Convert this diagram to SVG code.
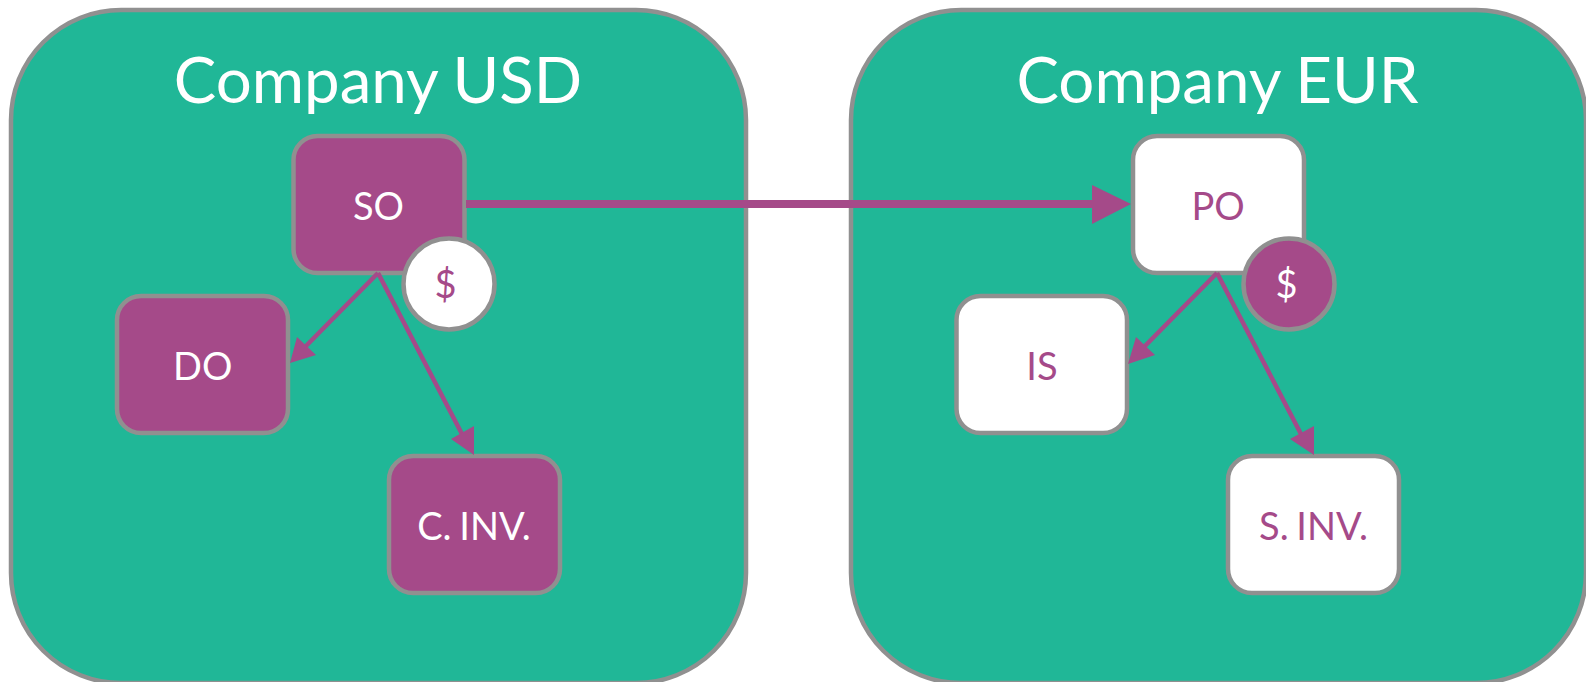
<svg xmlns="http://www.w3.org/2000/svg" width="1586" height="682" viewBox="0 0 1586 682">
<style>
text{font-family:Lato,"Noto Sans",sans-serif;text-anchor:middle}
.co{fill:#20b797;stroke:#909090;stroke-width:4.500}
.title{font-size:63.600px;fill:#fff;word-spacing:-1px}
.p{fill:#a54a89;stroke:#909090;stroke-width:4.500}
.w{fill:#fff;stroke:#909090;stroke-width:4.500}
.lw{font-size:38px;fill:#fff;word-spacing:-2px}
.lp{font-size:38px;fill:#a54a89;word-spacing:-2px}
.ln{stroke:#a54a89;fill:none}
.hd{fill:#a54a89}
</style>
<rect width="1586" height="682" fill="#fff"/>
<g id="company-usd"><rect class="co" x="11" y="10" width="735" height="673" rx="110"/><text class="title" x="378" y="102.500">Company USD</text></g>
<g id="company-eur"><rect class="co" x="851" y="10" width="735" height="673" rx="110"/><text class="title" x="1217.500" y="102.500">Company EUR</text></g>
<g id="so"><rect class="p" x="293.500" y="136" width="171" height="137" rx="24"/><text class="lw" x="378.500" y="219.500">SO</text></g>
<g id="do"><rect class="p" x="117" y="296" width="171" height="137" rx="24"/><text class="lw" x="202.700" y="379.500">DO</text></g>
<g id="cinv"><rect class="p" x="389" y="456" width="171" height="137" rx="24"/><text class="lw" x="474" y="539.500">C. INV.</text></g>
<g id="po"><rect class="w" x="1133" y="136" width="171" height="137" rx="24"/><text class="lp" x="1218" y="219.500">PO</text></g>
<g id="is"><rect class="w" x="956.500" y="296" width="170.500" height="137" rx="24"/><text class="lp" x="1042" y="379.500">IS</text></g>
<g id="sinv"><rect class="w" x="1228" y="456" width="171" height="137" rx="24"/><text class="lp" x="1313.500" y="539.500">S. INV.</text></g>
<g id="connectors">
<path class="ln" stroke-width="8" d="M466 204H1092"/><polygon class="hd" points="1092,185 1131,204 1092,224"/>
<path class="ln" stroke-width="4.500" d="M378 273L305 347M378 273L463 436"/>
<polygon class="hd" points="297,337 316,355 290,363"/><polygon class="hd" points="474,426 451,439 474,455"/>
<path class="ln" stroke-width="4.500" d="M1217 273L1144 347M1217 273L1302 436"/>
<polygon class="hd" points="1136,337 1155,355 1128,364"/><polygon class="hd" points="1314,426 1290,439 1314,455"/>
</g>
<g id="usd-badge"><circle class="w" cx="449" cy="284" r="45.500"/><text class="lp" x="445.500" y="298">$</text></g>
<g id="eur-badge"><circle class="p" cx="1289" cy="284" r="45.500"/><text class="lw" x="1286.500" y="298">$</text></g>
</svg>
